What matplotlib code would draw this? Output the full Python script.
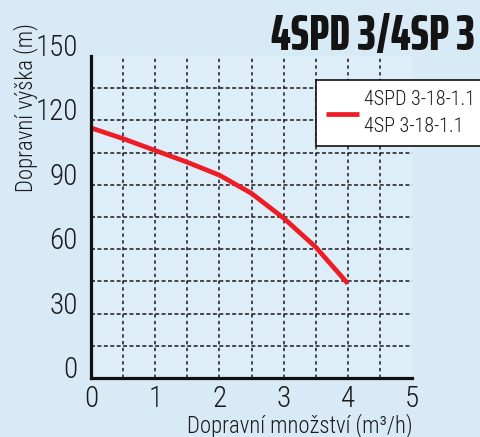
import numpy as np
import matplotlib
matplotlib.use("Agg")
import matplotlib.pyplot as plt

# ---- data ----
flow = [0, 0.5, 1, 1.5, 2, 2.5, 3, 3.5, 4]
head = [116.5, 111.5, 106, 100.5, 94.5, 86, 74.5, 61, 44]
x_ticks = [0, 1, 2, 3, 4, 5]
y_ticks = [0, 30, 60, 90, 120, 150]
grid_x = [0.5, 1, 1.5, 2, 2.5, 3, 3.5, 4, 4.5]
grid_y = [15, 30, 45, 60, 75, 90, 105, 120, 135]
series_label = "4SPD 3-18-1.1\n4SP 3-18-1.1"
title = "4SPD 3/4SP 3"
xlabel = "Dopravní množství (m³/h)"
ylabel = "Dopravní výška (m)"

FONT = ["Roboto Condensed", "DejaVu Sans"]
TITLE_FONT = ["Saira ExtraCondensed", "Saira Condensed", "Roboto Condensed", "DejaVu Sans"]
W, H = 481, 437
fig = plt.figure(figsize=(W / 100, H / 100), dpi=100)
fig.patch.set_facecolor("#d8eaf6")
ax = fig.add_axes([91 / W, 1 - 378 / H, 321 / W, 322 / H])
ax.set_facecolor("#ddeef9")

ax.set_xlim(0, 5)
ax.set_ylim(0, 150)

ax.vlines(grid_x, 0, 150, colors="#1a1a1a", linewidth=1.1,
          linestyles=(0, (2.2, 2.2)), zorder=1)
ax.hlines(grid_y, 0, 5, colors="#1a1a1a", linewidth=1.1,
          linestyles=(0, (2.6, 1.6)), zorder=1)

ax.plot(flow, head, color="#ee1c25", linewidth=3.4, solid_capstyle="butt",
        solid_joinstyle="round", label=series_label, zorder=3)

for s in ["top", "right"]:
    ax.spines[s].set_visible(False)
for s in ["left", "bottom"]:
    ax.spines[s].set_linewidth(2.3)
    ax.spines[s].set_color("#111111")
    ax.spines[s].set_zorder(4)

ax.set_xticks(x_ticks)
ax.set_xticklabels([str(v) for v in x_ticks], fontfamily=FONT, fontsize=21,
                   fontweight="light", color="#1a1a1a")
ax.set_yticks(y_ticks)
ax.set_yticklabels([str(v) for v in y_ticks], fontfamily=FONT, fontsize=21,
                   fontweight="light", color="#1a1a1a", va="baseline")
ax.tick_params(axis="both", length=0)
ax.tick_params(axis="x", pad=5)
ax.tick_params(axis="y", pad=9.5)

fig.text(413 / W, 1 - 432 / H, xlabel, ha="right", va="baseline",
         fontfamily=FONT, fontsize=16.4, fontweight="light", color="#1a1a1a")
fig.text(32 / W, 1 - 192 / H, ylabel, ha="left", va="baseline", rotation=90,
         rotation_mode="anchor", fontfamily=FONT, fontsize=16.4,
         fontweight="light", color="#1a1a1a")

fig.text(475 / W, 1 - 50 / H, title, ha="right", va="baseline",
         fontfamily=TITLE_FONT, fontsize=36, fontweight=800, color="#141414")

leg = ax.legend(loc="upper left", bbox_to_anchor=(316 / W, 1 - 80 / H),
                bbox_transform=fig.transFigure, borderaxespad=0,
                frameon=True, fancybox=False, handlelength=1.64,
                handletextpad=0.25, borderpad=0.5,
                prop={"family": FONT, "size": 14.5, "weight": "light"})
leg.get_frame().set_edgecolor("#111111")
leg.get_frame().set_linewidth(1.2)
leg.get_frame().set_facecolor("white")
leg.get_frame().set_alpha(1)
for t in leg.get_texts():
    t.set_linespacing(1.55)
    t.set_color("#1a1a1a")
leg.set_zorder(5)

fig.savefig("out.png", dpi=100, facecolor=fig.get_facecolor())
